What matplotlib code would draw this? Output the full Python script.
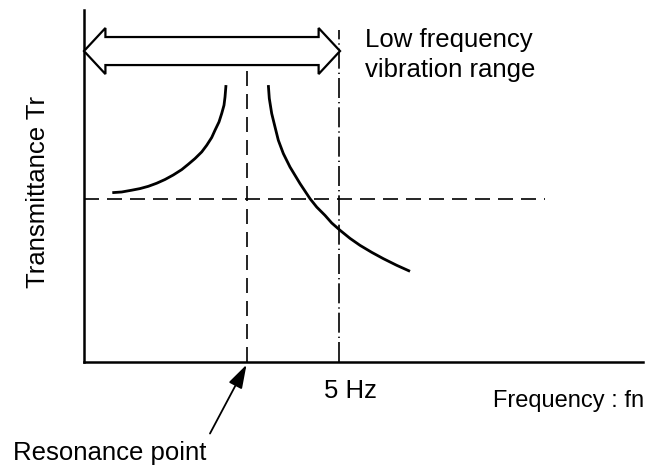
import matplotlib
matplotlib.use("Agg")
import matplotlib.pyplot as plt
from matplotlib.patches import Polygon

plt.rcParams['font.family'] = ['Liberation Sans', 'DejaVu Sans']

# ---- data (frequency in Hz, transmittance in relative units) ----
left_f = [0.555, 0.739, 0.935, 1.098, 1.261, 1.425, 1.588, 1.751, 1.916, 2.045,
          2.176, 2.308, 2.406, 2.504, 2.569, 2.647, 2.700, 2.745, 2.765, 2.784]
left_tr = [1.041, 1.045, 1.056, 1.066, 1.080, 1.099, 1.122, 1.150, 1.183, 1.216,
           1.251, 1.292, 1.333, 1.381, 1.426, 1.477, 1.529, 1.580, 1.631, 1.704]
right_f = [3.614, 3.633, 3.680, 3.745, 3.810, 3.908, 4.039, 4.235, 4.431, 4.563,
           4.725, 4.857, 5.020, 5.216, 5.412, 5.641, 5.869, 6.131, 6.392]
right_tr = [1.704, 1.622, 1.529, 1.446, 1.364, 1.282, 1.199, 1.097, 1.004, 0.952,
            0.901, 0.854, 0.809, 0.759, 0.716, 0.673, 0.634, 0.593, 0.556]
resonance_f = 3.196
limit_f = 5.0
tr_ref = 1.0

W, H = 650, 468
fig = plt.figure(figsize=(6.5, 4.68), dpi=100)
ax = fig.add_axes([84 / W, 106.5 / H, (643 - 84) / W, (361.5 - 10) / H])
ax.set_xlim(0, 10.96)
ax.set_ylim(0, 2.167)
ax.set_xticks([])
ax.set_yticks([])
for s in ['top', 'right']:
    ax.spines[s].set_visible(False)
for s in ['left', 'bottom']:
    ax.spines[s].set_linewidth(1.8)

# reference lines
ax.plot([0, 9.04], [tr_ref, tr_ref], color='black', lw=1.2, dashes=(9, 4.8), zorder=2)
ax.plot([resonance_f, resonance_f], [0, 1.83], color='black', lw=1.2, dashes=(9, 4.8), zorder=2)
ax.plot([limit_f, limit_f], [0, 2.043], color='black', lw=1.2, dashes=(12, 2.4, 0.8, 2.4), zorder=2,
        clip_on=False)

# curves
ax.plot(left_f, left_tr, color='black', lw=2.0, solid_capstyle='butt', solid_joinstyle='round', zorder=3)
ax.plot(right_f, right_tr, color='black', lw=2.0, solid_capstyle='butt', solid_joinstyle='round', zorder=3)

# double arrow (low frequency range)
yc, sh, hh, hl = 1.914, 0.0864, 0.142, 0.42
xl, xr = 0.0, 5.02
verts = [(xl, yc), (xl + hl, yc + hh), (xl + hl, yc + sh), (xr - hl, yc + sh), (xr - hl, yc + hh),
         (xr, yc), (xr - hl, yc - hh), (xr - hl, yc - sh), (xl + hl, yc - sh), (xl + hl, yc - hh)]
ax.add_patch(Polygon(verts, closed=True, facecolor='white', edgecolor='black', lw=1.6,
                     zorder=5, clip_on=False, joinstyle='miter'))

# resonance arrow
ax.annotate('', xy=(resonance_f - 0.01, -0.02), xytext=(2.47, -0.444),
            arrowprops=dict(arrowstyle='-|>,head_length=0.8,head_width=0.25', mutation_scale=18,
                            color='black', lw=1.3, shrinkA=0, shrinkB=0),
            annotation_clip=False)

fs = 18.5
fig.text(365 / W, 1 - 47 / H, 'Low frequency', fontsize=fs, ha='left', va='baseline')
fig.text(365 / W, 1 - 77 / H, 'vibration range', fontsize=fs, ha='left', va='baseline')
fig.text(350 / W, 1 - 398 / H, '5 Hz', fontsize=fs, ha='center', va='baseline')
fig.text(493 / W, 1 - 407 / H, 'Frequency : fn', fontsize=17, ha='left', va='baseline')
fig.text(13 / W, 1 - 460 / H, 'Resonance point', fontsize=fs, ha='left', va='baseline')
fig.text(45 / W, 1 - 192 / H, 'Transmittance Tr', fontsize=fs, ha='center', va='baseline',
         rotation=90, rotation_mode='anchor')

fig.savefig('out.png', dpi=100)
